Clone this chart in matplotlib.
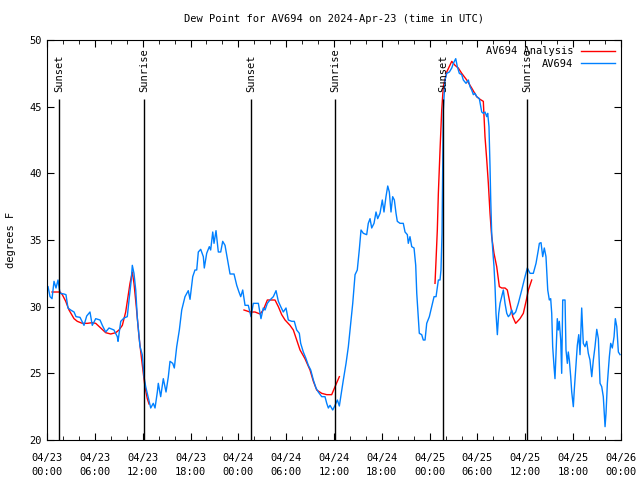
import matplotlib
matplotlib.use("Agg")
import matplotlib.pyplot as plt
from matplotlib.ticker import MultipleLocator

plt.rcParams["font.family"] = "DejaVu Sans Mono"
plt.rcParams["font.size"] = 7

# hours since 2024-04-23 00:00 UTC
obs_hours = [0.13, 0.38, 0.63, 0.88, 1.13, 1.38, 1.63, 2.13, 2.38, 2.63, 2.97, 3.39, 3.64, 4.14, 4.64,
             4.98, 5.39, 5.68, 6.11, 6.65, 6.94, 7.36, 7.78, 8.40, 8.82, 8.91, 9.25, 9.66, 10.07, 10.29,
             10.57, 10.70, 10.91, 11.13, 11.33, 11.67, 11.95, 12.17, 12.38, 12.67, 13.01, 13.33, 13.55,
             13.84, 13.96, 14.26, 14.59, 14.93, 15.22, 15.43, 15.77, 15.97, 16.27, 16.60, 16.90, 17.31,
             17.72, 17.94, 18.28, 18.56, 18.78, 18.98, 19.28, 19.61, 19.73, 20.03, 20.36, 20.53, 20.79,
             20.95, 21.20, 21.49, 21.79, 22.04, 22.33, 22.62, 22.96, 23.46, 23.80, 24.08, 24.30, 24.55,
             24.84, 25.25, 25.59, 25.88, 26.51, 26.72, 26.84, 27.13, 27.35, 27.64, 27.97, 28.39, 28.73,
             29.02, 29.32, 29.64, 29.98, 30.27, 30.70, 31.02, 31.32, 31.65, 31.82, 32.15, 32.49, 32.78,
             33.08, 33.41, 33.74, 34.03, 34.46, 34.87, 35.09, 35.29, 35.50, 35.84, 36.13, 36.42, 36.67,
             36.97, 37.17, 37.51, 37.80, 38.10, 38.35, 38.64, 38.92, 39.17, 39.39, 39.68, 40.10, 40.30,
             40.52, 40.73, 41.02, 41.27, 41.48, 41.77, 42.06, 42.27, 42.52, 42.74, 42.94, 43.15, 43.36,
             43.57, 43.78, 43.94, 44.28, 44.69, 44.91, 45.20, 45.32, 45.53, 45.75, 46.04, 46.25, 46.38,
             46.54, 46.70, 47.00, 47.20, 47.42, 47.63, 47.96, 48.26, 48.55, 48.80, 49.09, 49.30, 49.42,
             49.55, 49.64, 49.71, 49.93, 50.14, 50.47, 50.77, 50.97, 51.27, 51.47, 51.72, 52.02, 52.22,
             52.56, 52.85, 53.06, 53.27, 53.48, 53.69, 53.90, 54.23, 54.53, 54.73, 54.94, 55.16, 55.28,
             55.44, 55.57, 55.66, 55.78, 55.91, 56.07, 56.20, 56.32, 56.49, 56.66, 56.83, 57.04, 57.24,
             57.45, 57.67, 57.87, 58.08, 58.29, 58.49, 58.79, 59.12, 59.55, 59.96, 60.25, 60.59, 61.00,
             61.34, 61.63, 61.76, 61.97, 62.18, 62.38, 62.59, 62.81, 63.01, 63.18, 63.31, 63.43, 63.60,
             63.72, 63.85, 64.01, 64.14, 64.26, 64.44, 64.56, 64.69, 64.98, 65.10, 65.27, 65.39, 65.52,
             65.69, 65.82, 66.02, 66.14, 66.36, 66.52, 66.70, 66.86, 67.07, 67.27, 67.49, 67.70, 67.90,
             68.11, 68.33, 68.53, 68.74, 68.96, 69.16, 69.37, 69.58, 69.78, 70.00, 70.12, 70.29, 70.54,
             70.71, 70.91, 71.13, 71.29, 71.47, 71.67, 71.88]
obs_dewpt = [31.5, 30.75, 30.6, 31.9, 31.4, 32.0, 31.0, 30.95, 30.9, 29.9, 29.75, 29.6, 29.25, 29.2, 28.6,
             29.3, 29.6, 28.6, 29.1, 29.0, 28.6, 28.1, 28.4, 28.25, 27.75, 27.4, 28.9, 29.15, 29.25, 30.5,
             32.0, 33.1, 32.5, 31.25, 29.15, 27.0, 26.4, 24.75, 24.0, 23.25, 22.4, 22.75, 22.4,
             23.6, 24.25, 23.25, 24.6, 23.6, 24.75, 25.9, 25.75, 25.4, 27.0, 28.25, 29.75, 30.75,
             31.2, 30.55, 32.25, 32.75, 32.75, 34.1, 34.3, 33.75, 32.9, 34.0, 34.5, 34.25, 35.6,
             34.75, 35.7, 34.1, 34.1, 34.9, 34.6, 33.6, 32.45, 32.45, 31.6, 31.1, 30.75, 31.25,
             30.1, 30.1, 29.25, 30.25, 30.25, 29.5, 29.1, 29.9, 29.75, 30.25, 30.5, 30.75, 31.2,
             30.4, 30.0, 29.6, 29.9, 29.0, 28.9, 28.9, 28.25, 28.0, 27.25, 26.6, 26.1, 25.6,
             25.25, 24.5, 23.9, 23.6, 23.25, 23.25, 22.75, 22.4, 22.6, 22.25, 22.6, 23.0, 22.55,
             23.75, 24.5, 25.75, 27.0, 28.75, 30.25, 32.4, 32.75, 34.25, 35.75, 35.5, 35.4, 36.25,
             36.6, 35.9, 36.25, 37.1, 36.6, 37.0, 38.0, 37.1, 38.25, 39.05, 38.6, 37.1, 38.25,
             38.0, 37.0, 36.4, 36.25, 36.25, 35.6, 35.4, 34.75, 35.25, 34.5, 34.4, 33.1, 31.0,
             29.5, 28.0, 27.9, 27.5, 27.5, 28.75, 29.25, 30.0, 30.75, 30.75, 32.0, 32.0, 32.75,
             35.5, 41.0, 44.75, 47.0, 47.5, 47.6, 47.9, 48.25, 48.6, 48.0, 47.5, 47.4, 47.0,
             46.75, 47.0, 46.5, 46.25, 45.9, 46.0, 45.75, 45.6, 44.6, 44.5, 44.6, 44.25, 44.5,
             43.5, 40.5, 38.0, 35.5, 34.25, 33.0, 31.5, 29.5, 27.9, 29.5, 30.25, 30.75, 31.25,
             30.25, 29.5, 29.25, 29.4, 29.75, 29.4, 29.6, 30.25, 31.25, 32.25, 32.9, 32.5, 32.5,
             33.25, 34.25, 34.75, 34.8, 33.75, 34.4, 33.75, 31.25, 30.5, 30.6, 29.5, 27.0, 25.5,
             24.6, 26.5, 29.1, 28.25, 28.9, 27.5, 25.0, 30.5, 30.5, 26.75, 25.75, 26.6, 26.0,
             24.75, 23.6, 22.5, 23.75, 25.75, 27.1, 27.9, 26.4, 29.9, 27.25, 27.0, 27.4, 26.5,
             26.0, 24.75, 26.0, 27.0, 28.3, 27.6, 24.25, 24.0, 23.25, 21.0, 22.0, 24.25, 26.25,
             27.25, 26.9, 27.75, 29.1, 28.5, 26.6, 26.4]

# analysis series, three separate pieces
ana1_hours = [0.63, 1.63, 1.92, 2.35, 2.76, 3.39, 3.80, 4.43, 5.06, 5.68, 6.11, 6.74, 7.36, 7.99, 8.62,
              9.03, 9.45, 9.87, 10.16, 10.41, 10.70, 10.91, 11.20, 11.54, 11.83, 12.08, 12.29, 12.58, 12.80]
ana1_dewpt = [31.1, 31.1, 30.9, 30.4, 29.75, 29.1, 28.9, 28.75, 28.75, 28.8, 28.75, 28.4, 28.05, 27.95, 28.05,
              28.25, 28.6, 29.6, 30.75, 31.75, 32.6, 31.75, 30.0, 27.75, 26.25, 25.0, 24.0, 23.1, 22.7]
ana2_hours = [24.71, 25.46, 26.09, 26.72, 27.13, 27.64, 28.60, 29.02, 29.44, 29.86, 30.48, 30.90, 31.32,
              31.74, 32.36, 32.99, 33.41, 33.83, 34.46, 35.09, 35.71, 36.13, 36.67]
ana2_dewpt = [29.75, 29.6, 29.6, 29.45, 29.75, 30.5, 30.5, 30.0, 29.4, 29.0, 28.6, 28.25, 27.5,
              26.75, 26.1, 25.25, 24.4, 23.75, 23.5, 23.4, 23.4, 24.0, 24.75]
ana3_hours = [48.67, 48.80, 48.96, 49.09, 49.30, 49.51, 49.71, 50.14, 50.77, 51.18, 51.59, 52.02, 52.65,
              53.27, 53.90, 54.32, 54.73, 54.94, 55.16, 55.36, 55.57, 55.78, 56.07, 56.41, 56.74, 57.04,
              57.45, 57.74, 58.08, 58.42, 58.79, 59.33, 59.75, 60.09, 60.38, 60.80]
ana3_dewpt = [31.75, 33.5, 35.75, 38.5, 41.75, 44.75, 46.5, 47.6, 48.4, 48.1, 47.9, 47.5, 47.0,
              46.4, 45.75, 45.55, 45.4, 42.75, 41.0, 39.25, 37.0, 35.25, 34.0, 33.0, 31.5, 31.4,
              31.4, 31.25, 30.25, 29.25, 28.75, 29.1, 29.5, 30.4, 31.25, 32.0]

sun_hours = [1.55, 12.2, 25.6, 36.17, 49.7, 60.25]
sun_labels = ["Sunset", "Sunrise", "Sunset", "Sunrise", "Sunset", "Sunrise"]

tick_hours = list(range(0, 73, 6))
tick_labels = ["04/23\n00:00", "04/23\n06:00", "04/23\n12:00", "04/23\n18:00",
               "04/24\n00:00", "04/24\n06:00", "04/24\n12:00", "04/24\n18:00",
               "04/25\n00:00", "04/25\n06:00", "04/25\n12:00", "04/25\n18:00", "04/26\n00:00"]

fig = plt.figure(figsize=(6.4, 4.8), dpi=100)
ax = fig.add_axes([47 / 640, 40 / 480, 574 / 640, 400 / 480])

red = "#ff0000"
blue = "#0080ff"

ax.plot(ana1_hours, ana1_dewpt, color=red, lw=1, label="AV694 Analysis")
ax.plot(ana2_hours, ana2_dewpt, color=red, lw=1)
ax.plot(ana3_hours, ana3_dewpt, color=red, lw=1)
ax.plot(obs_hours, obs_dewpt, color=blue, lw=1, label="AV694")

for h, lab in zip(sun_hours, sun_labels):
    ax.vlines(h, 20, 45.6, color="black", lw=1)
    ax.text(h, 46.1, lab, rotation=90, ha="center", va="bottom", fontsize=7.5)

ax.set_xlim(0, 72)
ax.set_ylim(20, 50)
ax.set_xticks(tick_hours)
ax.set_xticklabels(tick_labels, linespacing=1.55)
ax.xaxis.set_minor_locator(MultipleLocator(2))
ax.set_yticks(range(20, 51, 5))
ax.tick_params(which="both", direction="in", top=True, right=True, labelsize=7.5)
ax.tick_params(axis="x", which="major", pad=9)
ax.tick_params(which="major", length=5)
ax.tick_params(which="minor", length=3)

ax.set_title("Dew Point for AV694 on 2024-Apr-23 (time in UTC)", fontsize=7.5, pad=13)
ax.set_ylabel("degrees F", fontsize=7.5, labelpad=10)

ax.legend(loc="upper right", frameon=False, markerfirst=False, fontsize=7.5,
          handlelength=3.2, borderaxespad=0.2, labelspacing=0.25, handletextpad=0.8)

fig.savefig("out.png", dpi=100)
